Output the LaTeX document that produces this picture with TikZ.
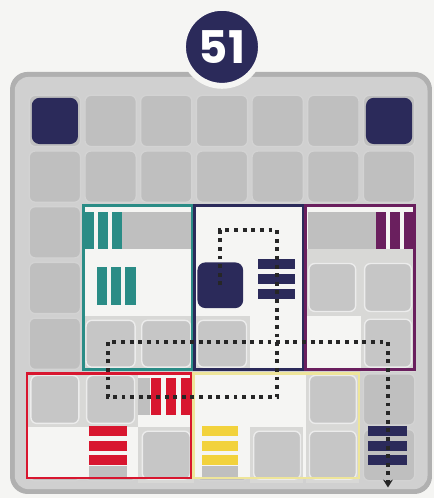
\documentclass[tikz,border=0pt]{standalone}
\usepackage{fontspec}
\newfontfamily\cardfont{Poppins}
\usepackage{tikz}
\usetikzlibrary{arrows.meta}
\definecolor{navy}{HTML}{2B2A5A}
\definecolor{tealc}{HTML}{2A8C86}
\definecolor{purplec}{HTML}{6A1F5E}
\definecolor{redc}{HTML}{D8162F}
\definecolor{yellowc}{HTML}{F2D23C}
\definecolor{yellowline}{HTML}{EEE59A}
\definecolor{paper}{HTML}{F5F5F3}
\definecolor{rim}{HTML}{B0B0B0}
\definecolor{band}{HTML}{D0D0D0}
\definecolor{cellgray}{HTML}{BFBFBF}
\definecolor{cellline}{HTML}{D3D3D3}
\definecolor{holebg}{HTML}{D8D8D6}
\definecolor{holegray}{HTML}{C6C6C6}
\definecolor{piecewhite}{HTML}{F5F5F3}

\begin{document}
\begin{tikzpicture}[>={Stealth[length=4pt,width=5pt]},
    cell/.style={fill=cellgray,draw=cellline,line width=0.7pt,rounded corners=3pt},
    hole/.style={fill=holegray,draw=white!85!gray,line width=0.7pt,rounded corners=3pt},
    frame/.style={draw=#1,line width=1.5pt},
    block/.style={fill=navy,rounded corners=4pt,inner sep=0pt,minimum size=#1},
    trail/.style={draw=black!85,line width=2pt,dash pattern=on 2pt off 2.4pt}]
    \fill[paper] (-0.485,-0.269) rectangle (7.307,8.671);
    \useasboundingbox (-0.485,-0.269) rectangle (7.307,8.671);
    \fill[rim,rounded corners=9pt] (-0.305,-0.197) rectangle (7.27,7.38);
    \fill[band,rounded corners=7pt] (-0.22,-0.11) rectangle (7.19,7.29);
    \foreach \x in {0,...,6}
        \foreach \y in {0,...,6}
            \draw[cell] (\x+0.04,\y+0.04) rectangle ++(0.92,0.92);
    \node[block=0.83cm] (tl) at (0.5,6.5) {};
    \node[block=0.83cm] (tr) at (6.5,6.5) {};
    \node[circle,fill=navy,draw=paper,line width=3pt,minimum size=1.4cm,inner sep=0pt,
        text=white,font=\cardfont\bfseries\fontsize{23}{23}\selectfont] (num) at (3.5,7.83) {51};

    \fill[piecewhite] (1.02,2.04) rectangle (2.97,4.98);
    \fill[cellgray] (1.71,4.2) rectangle (2.94,4.87);
    \foreach \x in {1,2} {
        \fill[holebg] (\x,2.04) rectangle ++(1,0.96);
        \draw[hole] (\x+0.06,2.08) rectangle ++(0.88,0.84);}
    \foreach \a in {1.02,1.27,1.52} \fill[tealc] (\a,4.2) rectangle ++(0.18,0.67);
    \foreach \a in {1.25,1.5,1.76} \fill[tealc] (\a,3.2) rectangle ++(0.19,0.67);
    \draw[frame=tealc] (1.02,2.04) rectangle (2.97,4.98);

    \fill[piecewhite] (3.0,2.04) rectangle (4.97,4.98);
    \fill[holebg] (3,2.04) rectangle ++(1,0.96);
    \draw[hole] (3.06,2.08) rectangle ++(0.88,0.84);
    \foreach \b in {3.30,3.57,3.84} \fill[navy] (4.15,\b) rectangle ++(0.66,0.19);
    \draw[frame=navy] (3.0,2.04) rectangle (4.97,4.98);

    \fill[piecewhite] (5.0,2.04) rectangle (6.96,4.98);
    \fill[cellgray] (5.04,4.2) rectangle (6.26,4.87);
    \fill[holebg] (5,3) rectangle (6.96,4.2);
    \foreach \x/\y in {5/3,6/3,6/2} {
        \fill[holebg] (\x,\y) rectangle ++(0.96,1);
        \draw[hole] (\x+0.06,\y+0.08) rectangle ++(0.84,0.86);}
    \foreach \a in {6.27,6.52,6.77} \fill[purplec] (\a,4.2) rectangle ++(0.18,0.67);
    \draw[frame=purplec] (5.0,2.04) rectangle (6.96,4.98);

    \fill[piecewhite] (0.0,0.09) rectangle (2.96,1.97);
    \foreach \x/\y in {0/1,1/1,2/0} {
        \fill[holebg] (\x,\y) rectangle ++(1,1);
        \draw[hole] (\x+0.07,\y+0.07) rectangle ++(0.86,0.86);}
    \fill[cellgray] (1.99,1.22) rectangle (2.21,1.89);
    \fill[cellgray] (1.11,0.1) rectangle (1.8,0.3);
    \foreach \a in {2.23,2.5,2.76} \fill[redc] (\a,1.22) rectangle ++(0.18,0.67);
    \foreach \b in {0.32,0.58,0.84} \fill[redc] (1.11,\b) rectangle ++(0.69,0.18);
    \draw[frame=redc] (0.0,0.09) rectangle (2.96,1.97);

    \fill[piecewhite] (2.99,0.09) rectangle (5.96,1.97);
    \foreach \x/\y in {5/1,4/0,5/0} {
        \fill[holebg] (\x,\y) rectangle ++(0.96,1);
        \draw[hole] (\x+0.07,\y+0.07) rectangle ++(0.84,0.86);}
    \fill[cellgray] (3.14,0.1) rectangle (3.79,0.3);
    \foreach \b in {0.32,0.58,0.84} \fill[yellowc] (3.14,\b) rectangle ++(0.65,0.18);
    \draw[frame=yellowline] (2.99,0.09) rectangle (5.96,1.97);

    \foreach \b in {0.32,0.58,0.84} \fill[navy] (6.12,\b) rectangle ++(0.7,0.18);
    \node[block=0.82cm] (blk) at (3.47,3.55) {};

    \coordinate (p1) at (3.47,4.54);
    \coordinate (p2) at (4.49,4.54);
    \coordinate (p3) at (4.49,1.54);
    \coordinate (p4) at (1.45,1.54);
    \coordinate (p5) at (1.45,2.53);
    \coordinate (p6) at (6.48,2.53);
    \coordinate (exit) at (6.48,-0.08);
    \draw[trail,->] (blk.center) -- (p1) -- (p2) -- (p3) -- (p4) -- (p5) -- (p6) -- (exit);
\end{tikzpicture}
\end{document}
